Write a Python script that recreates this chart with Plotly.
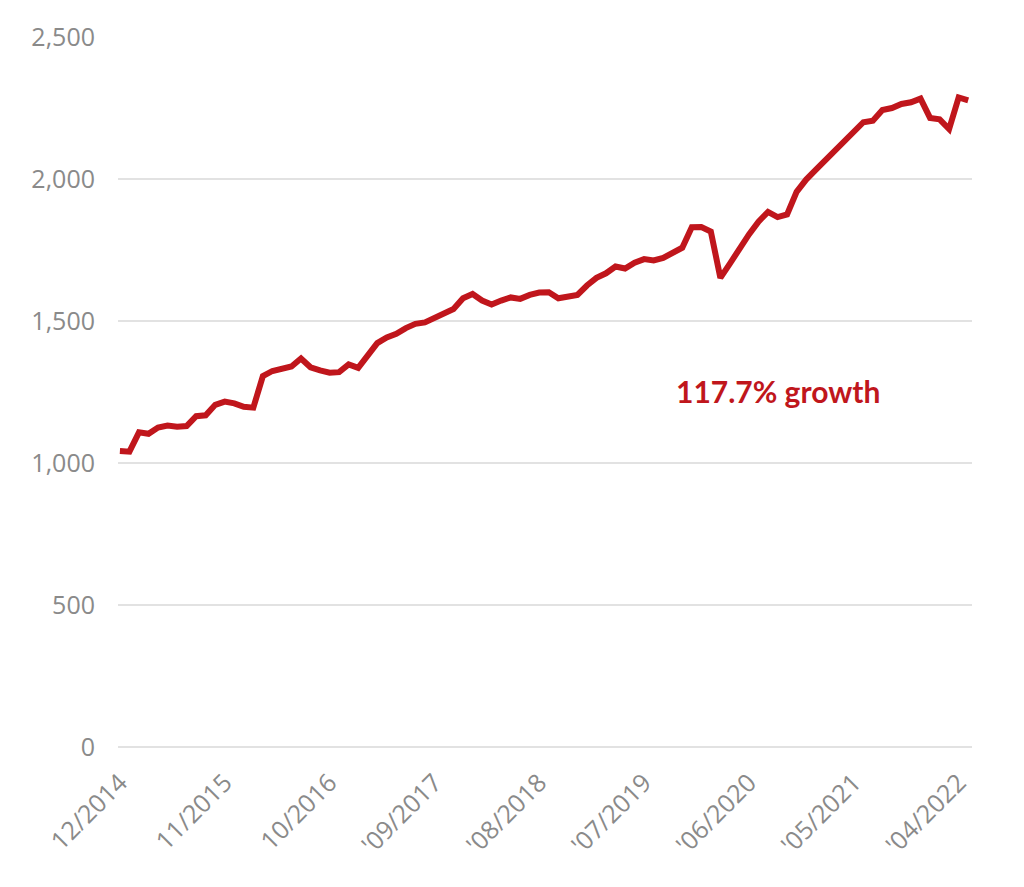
import plotly.graph_objects as go
import pandas as pd

months = [d.strftime("%m/%Y") for d in pd.date_range("2014-12-01", periods=90, freq="MS")]

values = [
    1042, 1040, 1108, 1103, 1125, 1132, 1128, 1130, 1165, 1168,
    1205, 1216, 1210, 1198, 1195, 1306, 1324, 1331, 1340, 1368,
    1337, 1326, 1318, 1320, 1347, 1335, 1375, 1422, 1442, 1455,
    1475, 1490, 1495, 1512, 1525, 1542, 1580, 1595, 1572, 1558,
    1572, 1583, 1578, 1592, 1600, 1601, 1580, 1585, 1592, 1625,
    1652, 1668, 1692, 1685, 1705, 1718, 1713, 1722, 1740, 1758,
    1830, 1831, 1815, 1652, 1702, 1755, 1805, 1850, 1884, 1866,
    1875, 1955, 1998, 2032, 2067, 2099, 2135, 2170, 2200, 2205,
    2243, 2250, 2264, 2270, 2283, 2215, 2210, 2176, 2287, 2277,
]

tick_cats = [months[i] for i in range(0, 90, 11)]
tick_text = ["12/2014", "11/2015", "10/2016", "'09/2017", "'08/2018",
             "'07/2019", "'06/2020", "'05/2021", "'04/2022"]

y_ticks = [0, 500, 1000, 1500, 2000, 2500]
y_text = ["0", "500", "1,000", "1,500", "2,000", "2,500"]

annotation_text = "117.7% growth"
annotation_month = months[69]
annotation_value = 1255

line_color = "#c0161c"
tick_color = "#8a8a8a"
grid_color = "#e2e2e2"

fig = go.Figure()
fig.add_trace(go.Scatter(
    x=months, y=values, mode="lines",
    line=dict(color=line_color, width=6),
    hoverinfo="skip", showlegend=False,
))

fig.add_annotation(
    x=annotation_month, y=annotation_value, text=annotation_text,
    showarrow=False, xanchor="center", yanchor="middle",
    font=dict(family="Lato", size=30, color=line_color, weight="bold"),
)

fig.update_layout(
    width=1024, height=887,
    margin=dict(l=110, r=60, t=29, b=148, autoexpand=False),
    paper_bgcolor="white", plot_bgcolor="white",
    font=dict(family="Open Sans", color=tick_color),
)
fig.update_xaxes(
    type="category", range=[-0.2, 89.4], automargin=False,
    tickmode="array", tickvals=tick_cats, ticktext=tick_text,
    tickangle=-45, tickfont=dict(size=25, color=tick_color),
    showgrid=False, zeroline=False, showline=False, ticks="",
    ticklabelstandoff=15,
)
fig.update_yaxes(
    range=[0, 2500], automargin=False,
    tickmode="array", tickvals=y_ticks, ticktext=y_text,
    tickfont=dict(size=25, color=tick_color),
    showgrid=True, gridcolor=grid_color, gridwidth=1.5,
    zeroline=True, zerolinecolor=grid_color, zerolinewidth=1.5,
    showline=False, ticks="",
    ticklabelstandoff=22,
)

fig.write_html("out.html")
